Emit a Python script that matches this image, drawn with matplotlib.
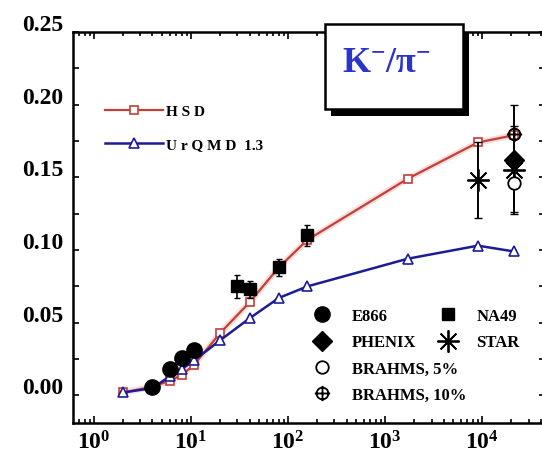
import matplotlib
matplotlib.use('Agg')
import matplotlib.pyplot as plt
import matplotlib.transforms as mtransforms
from matplotlib.path import Path
from matplotlib.patches import Rectangle
from matplotlib.ticker import FixedLocator, LogLocator, MultipleLocator, NullFormatter

plt.rcParams['font.family'] = ['Liberation Serif', 'DejaVu Serif']
plt.rcParams['font.weight'] = 'bold'
plt.rcParams['mathtext.fontset'] = 'custom'
plt.rcParams['mathtext.rm'] = 'Liberation Serif:bold'
plt.rcParams['mathtext.it'] = 'Liberation Serif:bold:italic'
plt.rcParams['mathtext.bf'] = 'Liberation Serif:bold'

# model curves (E_lab in AGeV vs K-/pi- ratio)
hsd_x = [2, 4, 6, 8, 10.7, 20, 40, 80, 158, 1700, 9000, 21300]
hsd_y = [0.002, 0.006, 0.010, 0.014, 0.021, 0.043, 0.064, 0.088, 0.107, 0.149, 0.174, 0.179]
urqmd_x = [2, 4, 6, 8, 10.7, 20, 40, 80, 158, 1700, 9000, 21300]
urqmd_y = [0.002, 0.005, 0.013, 0.018, 0.024, 0.038, 0.053, 0.067, 0.075, 0.094, 0.103, 0.099]

# experimental points
e866_x = [4, 6, 8, 10.7]
e866_y = [0.006, 0.018, 0.026, 0.031]
na49_x = [30, 40, 80, 158]
na49_y = [0.075, 0.073, 0.088, 0.110]
na49_err = [0.008, 0.006, 0.006, 0.007]
phenix_x = [21300]
phenix_y = [0.162]
star_x = [9000, 21300]
star_y = [0.148, 0.155]
star_err = [0.026, 0.030]
brahms5_x = [21300]
brahms5_y = [0.146]
brahms5_err = [0.020]
brahms10_x = [21300]
brahms10_y = [0.180]
brahms10_err = [0.020]

y_ticks = [0.00, 0.05, 0.10, 0.15, 0.20, 0.25]
x_ticks = [1, 10, 100, 1000, 10000]

red = '#c0403a'
blue = '#1c1c96'

fig = plt.figure(figsize=(5.42, 4.64), dpi=100)
ax = fig.add_axes([73 / 542, 1 - 424 / 464, (545 - 73) / 542, (424 - 33) / 464])

# light halo under the HSD line
ax.plot(hsd_x, hsd_y, color='#f9dedc', lw=4.5, zorder=1, solid_capstyle='round')
h_hsd, = ax.plot(hsd_x, hsd_y, '-s', color=red, mfc='white', mec=red, ms=5.5, mew=1.2,
                 lw=1.6, zorder=2, label='H S D')
h_urq, = ax.plot(urqmd_x, urqmd_y, '-^', color=blue, mfc='white', mec=blue, ms=7, mew=1.2,
                 lw=1.8, zorder=2, label='U r Q M D  1.3')

# error bars first, markers on top
ax.errorbar(na49_x, na49_y, yerr=na49_err, fmt='none', ecolor='black', elinewidth=1.2, capsize=2, zorder=3)
ax.errorbar(star_x, star_y, yerr=star_err, fmt='none', ecolor='black', elinewidth=1.4, capsize=3, zorder=3)
ax.errorbar(brahms5_x, brahms5_y, yerr=brahms5_err, fmt='none', ecolor='black', elinewidth=1.4, capsize=3, zorder=3)
ax.errorbar(brahms10_x, brahms10_y, yerr=brahms10_err, fmt='none', ecolor='black', elinewidth=1.4, capsize=3, zorder=3)

oplus = Path.make_compound_path(
    Path.unit_circle(),
    Path([(-1.3, 0), (1.3, 0), (0, -1.3), (0, 1.3)],
         [Path.MOVETO, Path.LINETO, Path.MOVETO, Path.LINETO]))

h_e866, = ax.plot(e866_x, e866_y, 'o', color='black', ms=11, ls='none', zorder=4, label='E866')
h_na49, = ax.plot(na49_x, na49_y, 's', color='black', ms=9, ls='none', zorder=4, label='NA49')
h_phen, = ax.plot(phenix_x, phenix_y, 'D', color='black', ms=10, ls='none', zorder=4, label='PHENIX')
h_star, = ax.plot(star_x, star_y, marker=(8, 2, 0), color='black', ms=16, mew=1.3, ls='none',
                  zorder=4, label='STAR')
h_b5, = ax.plot(brahms5_x, brahms5_y, 'o', mfc='white', mec='black', ms=9, mew=1.3, ls='none',
                zorder=4, label='BRAHMS, 5%')
h_b10, = ax.plot(brahms10_x, brahms10_y, marker=oplus, mfc='none', mec='black', ms=11, mew=1.3,
                 ls='none', zorder=4, label='BRAHMS, 10%')

ax.set_xscale('log')
ax.set_xlim(0.607, 44300)
ax.set_ylim(-0.019, 0.2486)

ax.xaxis.set_major_locator(FixedLocator(x_ticks))
ax.xaxis.set_minor_locator(LogLocator(base=10, subs=range(2, 10)))
ax.xaxis.set_minor_formatter(NullFormatter())
ax.set_xticklabels([r'$\mathrm{10^{%d}}$' % i for i in range(len(x_ticks))])
ax.set_yticks(y_ticks)
ax.set_yticklabels(['%.2f' % v for v in y_ticks])
ax.yaxis.set_minor_locator(MultipleLocator(0.025))

ax.tick_params(which='both', direction='in', top=True, right=True, width=1.2, labelsize=17)
ax.tick_params(axis='x', which='major', length=5, pad=5)
ax.tick_params(axis='x', which='minor', length=3)
ax.tick_params(axis='y', which='both', length=4, pad=7)
for s in ax.spines.values():
    s.set_linewidth(1.8)

# y labels sit a bit above their ticks
shift = mtransforms.ScaledTranslation(0, 10 / 100, fig.dpi_scale_trans)
for lab in ax.get_yticklabels():
    lab.set_transform(lab.get_transform() + shift)

leg1 = ax.legend(handles=[h_hsd, h_urq], loc='upper left', bbox_to_anchor=(0.068, 0.815),
                 frameon=False, fontsize=11, handlelength=3.8, handletextpad=0.2,
                 labelspacing=1.3, borderpad=0, borderaxespad=0, numpoints=1)
ax.add_artist(leg1)
leg2 = ax.legend(handles=[h_e866, h_phen, h_b5, h_b10], loc='upper left',
                 bbox_to_anchor=(0.506, 0.294), frameon=False, fontsize=12,
                 handlelength=1.2, handletextpad=1.2, labelspacing=0.62,
                 borderpad=0, borderaxespad=0, numpoints=1)
ax.add_artist(leg2)
ax.legend(handles=[h_na49, h_star], loc='upper left', bbox_to_anchor=(0.773, 0.294),
          frameon=False, fontsize=12, handlelength=1.2, handletextpad=1.1,
          labelspacing=0.62, borderpad=0, borderaxespad=0, numpoints=1)

# title box with drop shadow
bx, by, bw, bh = 0.534, 0.803, 0.292, 0.217
ax.add_patch(Rectangle((bx + 0.013, by - 0.019), bw, bh, transform=ax.transAxes,
                       fc='black', ec='none', clip_on=False, zorder=5))
ax.add_patch(Rectangle((bx, by), bw, bh, transform=ax.transAxes, fc='white', ec='black',
                       lw=1.8, clip_on=False, zorder=6))
ax.text(0.664, by + bh / 2 + 0.01, r'$\mathbf{K^{-}/\pi^{-}}$', transform=ax.transAxes,
        ha='center', va='center', fontsize=26, color='#2a34c8', zorder=7)

fig.savefig('out.png', dpi=100)
